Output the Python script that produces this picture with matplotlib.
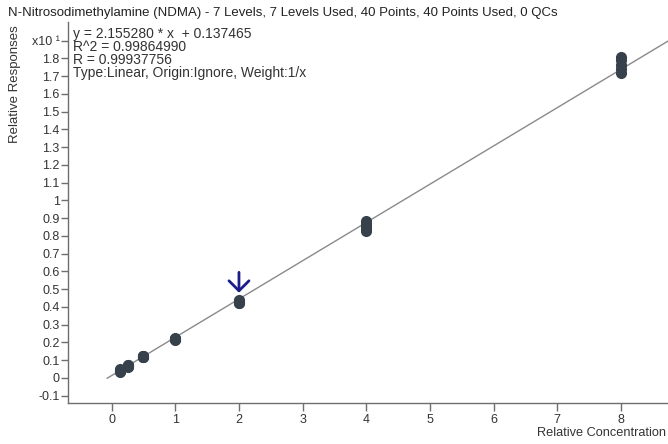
"""
NDMA kalibreerimiskõver - suhteline vastus vs suhteline kontsentratsioon
"""
import numpy as np
import matplotlib
matplotlib.use('Agg')
import matplotlib.pyplot as plt

plt.rcParams['font.family'] = ['Liberation Sans', 'DejaVu Sans']

# Kalibreerimise tasemed ja mõõdetud vastused (skaala x10^1)
level_x = [0.125, 0.25, 0.5, 1, 2, 4, 8]
responses = [
    [0.036, 0.040, 0.042, 0.045, 0.047, 0.050],
    [0.063, 0.066, 0.068, 0.070, 0.072, 0.075],
    [0.117, 0.119, 0.120, 0.121, 0.122, 0.124],
    [0.214, 0.217, 0.219, 0.220, 0.222, 0.224],
    [0.420, 0.424, 0.428, 0.431, 0.435, 0.438],
    [0.828, 0.840, 0.852, 0.868, 0.885],
    [1.720, 1.740, 1.765, 1.790, 1.810],
]

# Regressiooni parameetrid
slope = 2.155280
intercept = 0.137465
r2 = 0.99864990
r = 0.99937756

title = 'N-Nitrosodimethylamine (NDMA) - 7 Levels, 7 Levels Used, 40 Points, 40 Points Used, 0 QCs'
yticks = [round(-0.1 + 0.1 * i, 1) for i in range(21)]
xticks = [0, 1, 2, 3, 4, 5, 6, 7, 8]

W, H = 668, 444
fig = plt.figure(figsize=(W / 100, H / 100), dpi=100)
ax = fig.add_axes([68 / W, (H - 403) / H, 1 - 68 / W, (403 - 22) / H])

ax.set_xlim(-0.686, 8.74)
ax.set_ylim(-0.141, 2.005)

# Punktid
pt_color = '#36414b'
for lx, ys in zip(level_x, responses):
    ax.plot([lx] * len(ys), ys, 'o', color=pt_color, markersize=8,
            markeredgewidth=0, zorder=3)

# Regressioonijoon (näidatud skaalal x10^1)
line_x = np.array([-0.07, 8.74])
ax.plot(line_x, (slope * line_x + intercept) / 10, color='#8a8a8a', linewidth=1.0, zorder=2)

# Nool valitud punkti kohal
ax.annotate('', xy=(2, 0.480), xytext=(2, 0.595),
            arrowprops=dict(arrowstyle='->, head_width=0.45, head_length=0.45',
                            color='#1c1c8a', lw=2.0, mutation_scale=16,
                            shrinkA=0, shrinkB=0),
            zorder=4)

# Teljed
for s in ['top', 'right']:
    ax.spines[s].set_visible(False)
for s in ['left', 'bottom']:
    ax.spines[s].set_color('#6e6e6e')
    ax.spines[s].set_linewidth(1.0)

ax.set_yticks(yticks)
ylabels = ['%g' % v for v in yticks]
ylabels[-1] = 'x10 ¹'
ax.set_yticklabels(ylabels)
ax.set_xticks(xticks)
ax.set_xticklabels([str(v) for v in xticks])
ax.tick_params(axis='y', direction='out', length=5, width=1, color='#6e6e6e',
               labelsize=9, labelcolor='#333333', pad=1)
ax.tick_params(axis='x', direction='out', length=6, width=1, color='#6e6e6e',
               labelsize=9, labelcolor='#333333', pad=2)

# Tekstid
fig.text(8 / W, 1 - 13 / H, title, fontsize=9.5, color='#222222', va='center', ha='left')
fig.text(15 / W, 1 - 25 / H, 'Relative Responses', rotation=90, fontsize=9.5,
         color='#333333', va='top', ha='center')
fig.text(666 / W, 1 - 433 / H, 'Relative Concentration', fontsize=9.2,
         color='#333333', va='center', ha='right')

info = (f'y = {slope:.6f} * x  + {intercept:.6f}\n'
        f'R^2 = {r2:.8f}\n'
        f'R = {r:.8f}\n'
        'Type:Linear, Origin:Ignore, Weight:1/x')
fig.text(73 / W, 1 - 27 / H, info, fontsize=10, color='#333333', va='top', ha='left',
         linespacing=0.92)

fig.savefig('out.png', dpi=100)
plt.close(fig)
